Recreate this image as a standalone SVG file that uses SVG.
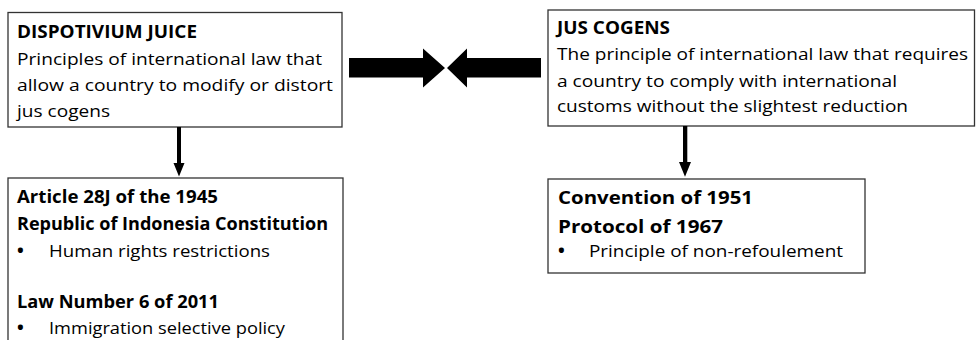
<svg xmlns="http://www.w3.org/2000/svg" width="976" height="340" viewBox="0 0 976 340">
<style>
.box{fill:#fff;stroke:#333;stroke-width:1.3}
text{font-family:"Open Sans","Liberation Sans",sans-serif;font-size:17px;fill:#000}
.b{font-weight:bold}
.t2{font-size:18.5px}
.bu{font-size:18px;font-weight:bold}
.ar{fill:#000}
</style>
<rect width="976" height="340" fill="#fff"/>
<g id="dispotivium">
<rect class="box" x="8" y="12.5" width="334" height="114.5"/>
<text class="b" x="17" y="38" textLength="180" lengthAdjust="spacingAndGlyphs">DISPOTIVIUM JUICE</text>
<text x="17" y="64.5" textLength="305" lengthAdjust="spacingAndGlyphs">Principles of international law that</text>
<text x="17" y="91" textLength="316" lengthAdjust="spacingAndGlyphs">allow a country to modify or distort</text>
<text x="17" y="117" textLength="93" lengthAdjust="spacingAndGlyphs">jus cogens</text>
</g>
<g id="jus-cogens">
<rect class="box" x="548" y="10" width="426.5" height="116"/>
<text class="b" x="557" y="34" textLength="113" lengthAdjust="spacingAndGlyphs">JUS COGENS</text>
<text x="557" y="60" textLength="411" lengthAdjust="spacingAndGlyphs">The principle of international law that requires</text>
<text x="557" y="86.5" textLength="340" lengthAdjust="spacingAndGlyphs">a country to comply with international</text>
<text x="557" y="112" textLength="351" lengthAdjust="spacingAndGlyphs">customs without the slightest reduction</text>
</g>
<g id="indonesia-law">
<rect class="box" x="8" y="178" width="335" height="170"/>
<text class="b" x="17" y="203" textLength="201" lengthAdjust="spacingAndGlyphs">Article 28J of the 1945</text>
<text class="b" x="17" y="230" textLength="311" lengthAdjust="spacingAndGlyphs">Republic of Indonesia Constitution</text>
<text class="bu" x="17" y="257">•</text>
<text x="49" y="257" textLength="221" lengthAdjust="spacingAndGlyphs">Human rights restrictions</text>
<text class="b" x="17" y="308" textLength="202" lengthAdjust="spacingAndGlyphs">Law Number 6 of 2011</text>
<text class="bu" x="17" y="334">•</text>
<text x="49" y="334" textLength="236" lengthAdjust="spacingAndGlyphs">Immigration selective policy</text>
</g>
<g id="convention">
<rect class="box" x="548" y="179" width="317" height="94"/>
<text class="b t2" x="558" y="204" textLength="195" lengthAdjust="spacingAndGlyphs">Convention of 1951</text>
<text class="b t2" x="558" y="233" textLength="165" lengthAdjust="spacingAndGlyphs">Protocol of 1967</text>
<text class="bu" x="558" y="257">•</text>
<text x="589" y="257" textLength="254" lengthAdjust="spacingAndGlyphs">Principle of non-refoulement</text>
</g>
<g id="connectors">
<polygon class="ar" points="349,58 423,58 423,48.5 445,68 423,87.5 423,77.5 349,77.5"/>
<polygon class="ar" points="541,58 467,58 467,48.5 447,68 467,87.5 467,77.5 541,77.5"/>
<polygon class="ar" points="177,127 181,127 181,163 184.5,163 179,176.5 173.5,163 177,163"/>
<polygon class="ar" points="683,126 687.3,126 687.3,162 691,162 685,176.7 679,162 683,162"/>
</g>
</svg>
